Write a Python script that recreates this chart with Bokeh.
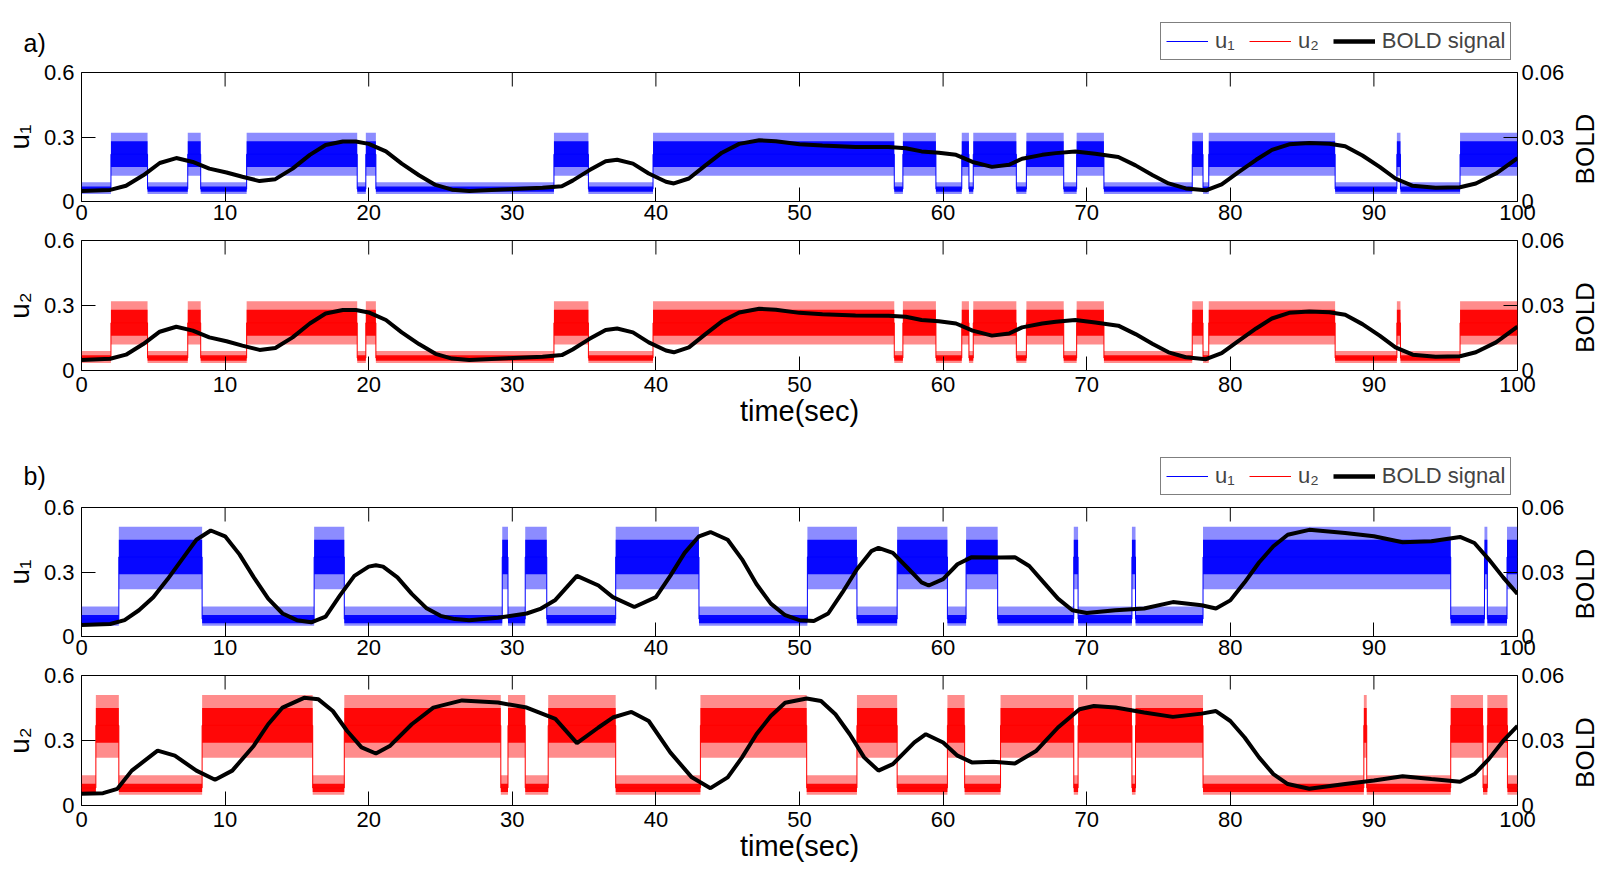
import math
from bokeh.plotting import figure
from bokeh.models import (Range1d, LinearAxis, FixedTicker, NumeralTickFormatter,
                          Legend, LegendItem, ColumnDataSource)
from bokeh.core.properties import value
from bokeh.layouts import column, row
from bokeh.embed import file_html
from bokeh.resources import INLINE

FONT = "Liberation Sans"

# ---------------- data ----------------
x_ticks = [0, 10, 20, 30, 40, 50, 60, 70, 80, 90, 100]
u_ticks = [0, 0.3, 0.6]
bold_ticks = [0, 0.03, 0.06]

# switching times of the noisy inputs (state 0 = low, 1 = high)
a_u1_edges = [0, 2.05, 4.6, 7.4, 8.3, 11.5, 19.2, 19.8, 20.5, 32.9, 35.3, 39.8, 56.6, 57.2,
              59.5, 61.3, 61.8, 62.1, 65.1, 65.8, 68.4, 69.3, 71.2, 77.35, 78.1, 78.5, 87.3,
              91.6, 91.85, 96.0, 100]
a_u1_states = [0, 1, 0, 1, 0, 1, 0, 1, 0, 1, 0, 1, 0, 1, 0, 1, 0, 1, 0, 1, 0, 1, 0, 1, 0, 1,
               0, 1, 0, 1]
a_u2_edges = [0, 2.05, 4.6, 7.4, 8.3, 11.5, 19.2, 19.8, 20.5, 32.9, 35.3, 39.8, 56.6, 57.2,
              59.5, 61.3, 61.8, 62.1, 65.1, 65.8, 68.4, 69.3, 71.2, 77.35, 78.1, 78.5, 87.3,
              91.6, 91.85, 96.0, 100]
a_u2_states = [0, 1, 0, 1, 0, 1, 0, 1, 0, 1, 0, 1, 0, 1, 0, 1, 0, 1, 0, 1, 0, 1, 0, 1, 0, 1,
               0, 1, 0, 1]
b_u1_edges = [0, 2.6, 8.4, 16.2, 18.3, 29.3, 29.7, 30.9, 32.4, 37.2, 43.0, 50.55, 54.0, 56.8,
              60.3, 61.6, 63.8, 69.1, 69.4, 73.15, 73.4, 78.1, 95.35, 97.7, 97.9, 99.27, 100]
b_u1_states = [0, 1, 0, 1, 0, 1, 0, 1, 0, 1, 0, 1, 0, 1, 0, 1, 0, 1, 0, 1, 0, 1, 0, 1, 0, 1]
b_u2_edges = [0, 1.0, 2.6, 8.4, 16.1, 18.3, 29.2, 29.7, 30.9, 32.5, 37.2, 43.1, 50.5, 54.0,
              56.8, 60.3, 61.5, 64.0, 69.1, 69.4, 73.15, 73.4, 78.1, 89.3, 89.5, 95.35, 97.6,
              97.9, 99.3, 100]
b_u2_states = [0, 1, 0, 1, 0, 1, 0, 1, 0, 1, 0, 1, 0, 1, 0, 1, 0, 1, 0, 1, 0, 1, 0, 1, 0, 1,
               0, 1, 0]

# noise envelopes: (outer low, core low, core high, outer high) for each state
a_levels = {0: (0.035, 0.045, 0.07, 0.09), 1: (0.12, 0.16, 0.28, 0.32)}
b_levels = {0: (0.05, 0.062, 0.10, 0.14), 1: (0.22, 0.29, 0.45, 0.51)}

# BOLD signals
bold_a_t = [0, 2, 3.1, 4.3, 5.45, 6.6, 7.75, 8.9, 10.1, 11.2, 12.4, 13.5, 14.7, 15.9, 17.0,
            18.2, 19.1, 20.0, 21.2, 22.3, 23.5, 24.65, 25.8, 27.0, 29.7, 32.1, 33.45, 34.2,
            35.35, 36.5, 37.3, 38.4, 39.5, 40.7, 41.25, 42.3, 43.45, 44.6, 45.8, 47.2, 48.35,
            50.0, 51.6, 53.9, 56.2, 57.4, 58.5, 59.7, 60.9, 62.05, 63.4, 64.6, 65.5, 66.9,
            67.85, 69.2, 70.6, 72.2, 73.4, 74.6, 75.7, 76.9, 78.3, 79.4, 80.6, 81.8, 82.9,
            84.1, 85.5, 86.9, 88.0, 89.2, 90.4, 91.5, 92.7, 94.3, 96.0, 97.1, 98.5, 100]
bold_a_v = [0.0049, 0.0054, 0.0073, 0.0122, 0.0179, 0.0202, 0.0184, 0.0153, 0.0135, 0.0115,
            0.0095, 0.0104, 0.0153, 0.0217, 0.0263, 0.0279, 0.0279, 0.0268, 0.0233, 0.0176,
            0.0122, 0.0077, 0.0055, 0.0049, 0.0057, 0.0064, 0.0071, 0.0097, 0.0145, 0.0187,
            0.0194, 0.0176, 0.0130, 0.0092, 0.0084, 0.0107, 0.0168, 0.0227, 0.0268, 0.0285,
            0.0280, 0.0266, 0.0260, 0.0254, 0.0253, 0.0248, 0.0233, 0.0227, 0.0217, 0.0184,
            0.0161, 0.0171, 0.0199, 0.0217, 0.0225, 0.0233, 0.0222, 0.0207, 0.0168, 0.0122,
            0.0084, 0.0061, 0.0052, 0.0080, 0.0138, 0.0194, 0.0240, 0.0266, 0.0272, 0.0269,
            0.0257, 0.0214, 0.0161, 0.0107, 0.0073, 0.0064, 0.0066, 0.0084, 0.0130, 0.0202]
bold_b1_t = [0, 2, 3, 4, 5, 6, 7, 8, 9, 10, 11, 12, 13, 14, 15, 16, 17, 18, 19, 20, 20.5, 21,
             22, 23, 24, 25, 26, 27, 29, 31, 32, 33, 34.5, 36, 37, 38.5, 40, 41, 42, 43, 43.8,
             45, 46, 47, 48, 49, 50, 51, 52, 53, 54, 55, 55.5, 56.5, 57.5, 58.5, 59, 60, 61,
             62, 64, 65, 66, 67, 68, 69, 70, 72, 74, 76, 78, 79, 80, 81, 82, 83, 84, 85.5,
             88, 90, 92, 94, 96, 97, 98, 99, 100]
bold_b1_v = [0.0053, 0.0058, 0.0076, 0.0122, 0.0183, 0.0267, 0.0359, 0.0450, 0.0493, 0.0466,
             0.0382, 0.0275, 0.0176, 0.0107, 0.0076, 0.0066, 0.0092, 0.0191, 0.0282, 0.0325,
             0.0331, 0.0325, 0.0275, 0.0198, 0.0133, 0.0096, 0.0081, 0.0076, 0.0087, 0.0107,
             0.0130, 0.0170, 0.0282, 0.0237, 0.0183, 0.0137, 0.0183, 0.0282, 0.0389, 0.0466,
             0.0486, 0.0450, 0.0359, 0.0244, 0.0153, 0.0099, 0.0076, 0.0072, 0.0107, 0.0206,
             0.0313, 0.0397, 0.0412, 0.0389, 0.0321, 0.0252, 0.0237, 0.0267, 0.0336, 0.0369,
             0.0368, 0.0369, 0.0328, 0.0252, 0.0176, 0.0122, 0.0109, 0.0122, 0.0130, 0.0160,
             0.0145, 0.0130, 0.0168, 0.0252, 0.0344, 0.0420, 0.0473, 0.0496, 0.0481, 0.0466,
             0.0438, 0.0443, 0.0463, 0.0435, 0.0359, 0.0275, 0.0198]
bold_b2_t = [0, 1.5, 2.5, 3.5, 5.3, 6.5, 8, 9.3, 10.5, 12, 13, 14, 15.5, 16.5, 17.5, 18.5, 19.5,
             20.5, 21.5, 23, 24.5, 26.5, 29, 31, 33, 34.5, 36, 37, 38.3, 39.5, 41, 42.5, 43.8,
             45, 46, 47, 48, 49, 50.5, 51.5, 52.5, 53.5, 54.5, 55.5, 56.5, 58, 58.8, 60, 61,
             62, 63.5, 65, 66.5, 68, 69.5, 70.5, 72, 74, 76, 78, 79, 80, 81, 82, 83, 84, 85.5,
             88, 90, 92, 94, 96, 97, 98, 99, 100]
bold_b2_v = [0.0054, 0.0057, 0.0077, 0.0161, 0.0253, 0.0230, 0.0161, 0.0119, 0.0161, 0.0276,
             0.0375, 0.0452, 0.0497, 0.0490, 0.0436, 0.0344, 0.0268, 0.0240, 0.0276, 0.0375,
             0.0452, 0.0485, 0.0475, 0.0452, 0.0400, 0.0288, 0.0360, 0.0406, 0.0432, 0.0390,
             0.0245, 0.0130, 0.0080, 0.0130, 0.0222, 0.0329, 0.0413, 0.0474, 0.0494, 0.0482,
             0.0421, 0.0329, 0.0222, 0.0161, 0.0191, 0.0291, 0.0329, 0.0291, 0.0230, 0.0199,
             0.0202, 0.0194, 0.0253, 0.0360, 0.0444, 0.0459, 0.0452, 0.0429, 0.0409, 0.0424,
             0.0436, 0.0390, 0.0314, 0.0222, 0.0145, 0.0099, 0.0077, 0.0099, 0.0115, 0.0135,
             0.0122, 0.0110, 0.0145, 0.0214, 0.0298, 0.0367]

BLUE = "#0000ff"
RED = "#ff0000"
W = 1606
FW = 1436
LEFT = 81
RIGHT = 52
SIDE = W - LEFT - FW - RIGHT     # strip holding the rotated "BOLD" label
HEAD = 60
NAN = float("nan")
TICK_FONT = "22px"


def style_axis(ax, size=TICK_FONT):
    ax.axis_line_color = None
    ax.major_tick_in = 14
    ax.major_tick_out = 0
    ax.major_tick_line_color = "black"
    ax.minor_tick_line_color = None
    ax.major_label_text_font = FONT
    ax.major_label_text_font_size = size
    ax.major_label_text_color = "black"
    ax.axis_label_text_font = FONT
    ax.axis_label_text_font_style = "normal"
    ax.axis_label_text_color = "black"


def bare(w, h):
    p = figure(frame_width=w, frame_height=h, x_range=Range1d(0, w), y_range=Range1d(0, h),
               output_backend="svg", toolbar_location=None,
               x_axis_location=None, y_axis_location=None, min_border=0,
               min_border_left=0, min_border_right=0, min_border_top=0, min_border_bottom=0)
    p.outline_line_color = None
    p.grid.visible = False
    p.background_fill_color = "white"
    p.border_fill_color = "white"
    return p


def header(label_text, label_y):
    p = bare(W, HEAD)
    r_u1 = p.line(x=[NAN], y=[NAN], line_color=BLUE, line_width=1)
    r_u2 = p.line(x=[NAN], y=[NAN], line_color=RED, line_width=1)
    r_bl = p.line(x=[NAN], y=[NAN], line_color="black", line_width=4.5)
    leg = Legend(items=[LegendItem(label="u₁", renderers=[r_u1]),
                        LegendItem(label="u₂", renderers=[r_u2]),
                        LegendItem(label="BOLD signal", renderers=[r_bl])],
                 orientation="horizontal", location=(1160, 0),
                 label_text_font=FONT, label_text_font_size="22px",
                 glyph_width=42, glyph_height=20, label_standoff=7, spacing=14,
                 padding=5, margin=0, border_line_color="black", border_line_width=1,
                 background_fill_color="white", background_fill_alpha=1.0)
    p.add_layout(leg)
    p.text(x=[23], y=[label_y], text=[label_text], text_font=value(FONT),
           text_font_size="25px", text_baseline="middle", text_align="left",
           text_color="black")
    return p


def side(total_h, bottom, frame_h):
    p = bare(SIDE, total_h)
    p.text(x=[15.5], y=[bottom + frame_h / 2], text=["BOLD"], angle=math.pi / 2,
           text_font=value(FONT), text_font_size="26px", text_align="center",
           text_baseline="middle", text_color="black")
    return p


def panel(edges, states, lev, color, bt, bv, ylab, frame_h, top, bottom, xlabel=None):
    p = figure(frame_width=FW, frame_height=frame_h,
               x_range=Range1d(0, 100), y_range=Range1d(0, u_ticks[-1]),
               output_backend="svg", toolbar_location=None,
               x_axis_location=None, y_axis_location=None,
               min_border_left=LEFT, min_border_right=RIGHT,
               min_border_top=top, min_border_bottom=bottom)
    p.outline_line_color = "black"
    p.outline_line_width = 1
    p.background_fill_color = "white"
    p.border_fill_color = "white"
    p.grid.visible = False
    p.extra_y_ranges = {"bold": Range1d(0, bold_ticks[-1])}

    xb = LinearAxis(ticker=FixedTicker(ticks=x_ticks), major_label_standoff=3)
    style_axis(xb)
    if xlabel:
        xb.major_label_standoff = 6
        xb.axis_label = xlabel
        xb.axis_label_text_font_size = "29px"
        xb.axis_label_standoff = 0
    p.add_layout(xb, "below")

    yl = LinearAxis(ticker=FixedTicker(ticks=u_ticks),
                    formatter=NumeralTickFormatter(format="0.[00]"),
                    axis_label=ylab, major_label_standoff=7, axis_label_standoff=6)
    style_axis(yl)
    yl.axis_label_text_font_size = "28px"
    p.add_layout(yl, "left")

    yr = LinearAxis(y_range_name="bold", ticker=FixedTicker(ticks=bold_ticks),
                    formatter=NumeralTickFormatter(format="0.[00]"),
                    major_label_standoff=4)
    style_axis(yr)
    p.add_layout(yr, "right")

    # top-edge tick marks (mirrored x ticks): a vertical dash clipped by the frame
    p.scatter(x=x_ticks, y=[u_ticks[-1]] * len(x_ticks), marker="dash", angle=math.pi / 2,
              size=28, line_color="black", line_width=1)

    # noisy input: envelope bands per segment + the switching trace
    seg = dict(left=edges[:-1], right=edges[1:],
               olo=[lev[s][0] for s in states], clo=[lev[s][1] for s in states],
               chi=[lev[s][2] for s in states], ohi=[lev[s][3] for s in states])
    src = ColumnDataSource(seg)
    p.quad(left="left", right="right", bottom="olo", top="ohi", source=src,
           fill_color=color, fill_alpha=0.45, line_color=None)
    p.quad(left="left", right="right", bottom="clo", top="chi", source=src,
           fill_color=color, fill_alpha=0.95, line_color=None)
    mids = [(lev[s][1] + lev[s][2]) / 2 for s in states]
    p.step(x=edges, y=mids + [mids[-1]], mode="after", line_color=color, line_width=1)

    p.line(bt, bv, y_range_name="bold", line_color="black", line_width=4)
    return row(p, side(top + frame_h + bottom, bottom, frame_h), spacing=0)


ha = header("a)", HEAD - 42)
pa1 = panel(a_u1_edges, a_u1_states, a_levels, BLUE, bold_a_t, bold_a_v, "u₁", 129, 12, 27)
pa2 = panel(a_u2_edges, a_u2_states, a_levels, RED, bold_a_t, bold_a_v, "u₂", 130, 12, 65,
            "time(sec)")
hb = header("b)", HEAD - 40)
pb1 = panel(b_u1_edges, b_u1_states, b_levels, BLUE, bold_b1_t, bold_b1_v, "u₁", 129, 12, 27)
pb2 = panel(b_u2_edges, b_u2_states, b_levels, RED, bold_b2_t, bold_b2_v, "u₂", 130, 12, 63,
            "time(sec)")

layout = column(ha, pa1, pa2, hb, pb1, pb2, spacing=0)
open("out.html", "w").write(file_html(layout, INLINE))
